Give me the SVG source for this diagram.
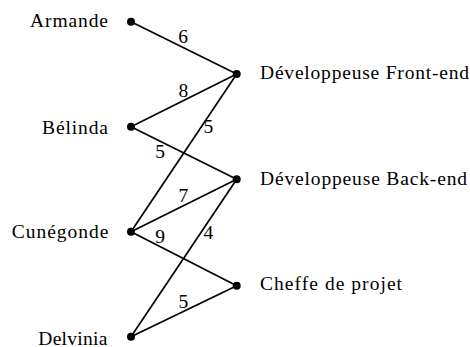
<svg xmlns="http://www.w3.org/2000/svg" width="470" height="347" viewBox="0 0 470 347" font-family="'Liberation Serif', 'Times New Roman', serif">
<style>
text{font-family:'Liberation Serif','Times New Roman',serif;font-size:19.5px;fill:#000}
.l{text-anchor:end}
.w{text-anchor:middle}
line{stroke:#000;stroke-width:1.7;stroke-linecap:round}
circle{fill:#000}
</style>
<rect width="470" height="347" fill="#fff"/>
<g id="connectors">
<line x1="131" y1="21.7" x2="236.7" y2="74"/>
<line x1="131" y1="126.7" x2="236.7" y2="74"/>
<line x1="131" y1="126.7" x2="236.7" y2="179.3"/>
<line x1="131" y1="231.7" x2="236.7" y2="74"/>
<line x1="131" y1="231.7" x2="236.7" y2="179.3"/>
<line x1="131" y1="231.7" x2="236.7" y2="285.7"/>
<line x1="131" y1="336.7" x2="236.7" y2="179.3"/>
<line x1="131" y1="336.7" x2="236.7" y2="285.7"/>
<text class="w" x="183" y="43.2">6</text>
<text class="w" x="183.3" y="96.5">8</text>
<text class="w" x="208.3" y="133.2">5</text>
<text class="w" x="160" y="158.2">5</text>
<text class="w" x="183.3" y="201.5">7</text>
<text class="w" x="160" y="243.2">9</text>
<text class="w" x="208.3" y="239.2">4</text>
<text class="w" x="183.3" y="308.2">5</text>
</g>
<g id="armande"><circle cx="131" cy="21.7" r="4"/><text class="l" x="108" y="27" textLength="78">Armande</text></g>
<g id="belinda"><circle cx="131" cy="126.7" r="4"/><text class="l" x="108" y="133.5" textLength="66">Bélinda</text></g>
<g id="cunegonde"><circle cx="131" cy="231.7" r="4"/><text class="l" x="108.3" y="238.3" textLength="96.6">Cunégonde</text></g>
<g id="delvinia"><circle cx="131" cy="336.7" r="4"/><text class="l" x="107.3" y="344.5" textLength="69">Delvinia</text></g>
<g id="frontend"><circle cx="236.7" cy="74" r="4"/><text x="260" y="79.3" textLength="209">Développeuse Front-end</text></g>
<g id="backend"><circle cx="236.7" cy="179.3" r="4"/><text x="260" y="185" textLength="207">Développeuse Back-end</text></g>
<g id="cheffe"><circle cx="236.7" cy="285.7" r="4"/><text x="260" y="290" textLength="142">Cheffe de projet</text></g>
</svg>
